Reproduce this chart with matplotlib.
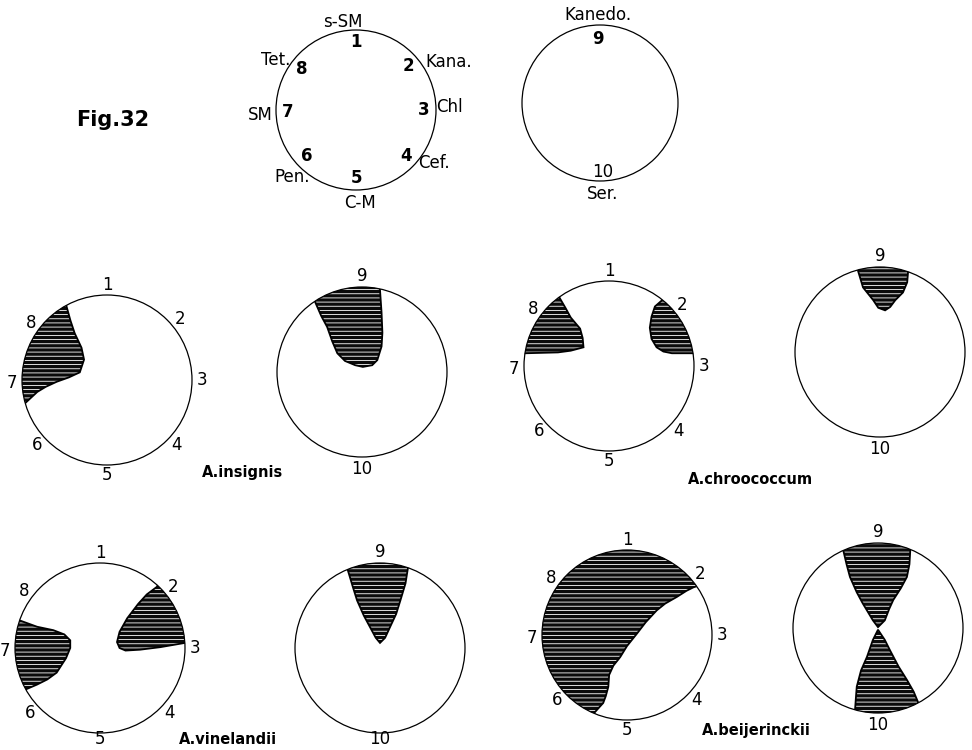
import matplotlib
matplotlib.use('Agg')
import matplotlib.pyplot as plt
from matplotlib.patches import Circle, Polygon
from matplotlib.transforms import Affine2D

plt.rcParams['font.family'] = ['DejaVu Sans']
plt.rcParams['hatch.linewidth'] = 0.6

# numbering of the positions round the circles
POS_LEFT = ['1', '2', '3', '4', '5', '6', '7', '8']
POS_RIGHT = ['9', '10']
KEY_NAMES = ['s-SM', 'Kana.', 'Chl', 'Cef.', 'C-M', 'Pen.', 'SM', 'Tet.']
KEY_NAMES_RIGHT = ['Kanedo.', 'Ser.']
SPECIES = ['A.insignis', 'A.chroococcum', 'A.vinelandii', 'A.beijerinckii']

# shaded regions, outline points in unit circle coords (x right, y up)
INSIGNIS_L = [(-0.48, 0.88), (-0.43, 0.70), (-0.38, 0.55), (-0.30, 0.38), (-0.27, 0.24),
              (-0.32, 0.09), (-0.45, 0.03), (-0.59, -0.02), (-0.72, -0.08), (-0.82, -0.14),
              (-0.96, -0.27), (-1.3, -0.35), (-1.3, 0.5), (-0.6, 1.3)]
INSIGNIS_R = [(-0.55, 0.82), (-0.48, 0.66), (-0.41, 0.53), (-0.35, 0.36), (-0.29, 0.22),
              (-0.20, 0.13), (-0.08, 0.08), (0.01, 0.06), (0.12, 0.08), (0.18, 0.14),
              (0.23, 0.30), (0.24, 0.46), (0.23, 0.70), (0.21, 0.99), (0.25, 1.3), (-0.6, 1.3)]
CHROO_L8 = [(-0.58, 0.80), (-0.51, 0.68), (-0.45, 0.57), (-0.34, 0.44), (-0.31, 0.33),
            (-0.30, 0.22), (-0.45, 0.18), (-0.60, 0.16), (-0.98, 0.15), (-1.3, 0.1), (-0.7, 1.2)]
CHROO_L2 = [(0.62, 0.77), (0.54, 0.70), (0.50, 0.58), (0.48, 0.45), (0.50, 0.32),
            (0.56, 0.22), (0.64, 0.17), (0.74, 0.15), (0.98, 0.15), (1.3, 0.1), (0.75, 1.2)]
CHROO_R = [(-0.26, 0.96), (-0.20, 0.76), (-0.08, 0.61), (-0.02, 0.52), (0.06, 0.49),
           (0.12, 0.53), (0.18, 0.61), (0.27, 0.70), (0.32, 0.82), (0.33, 0.94),
           (0.35, 1.3), (-0.3, 1.3)]
VINE_L7 = [(-0.96, 0.33), (-0.74, 0.25), (-0.55, 0.21), (-0.42, 0.16), (-0.35, 0.09),
           (-0.35, 0.00), (-0.40, -0.12), (-0.51, -0.29), (-0.62, -0.37), (-0.74, -0.43),
           (-0.88, -0.49), (-1.3, -0.6), (-1.3, 0.4)]
VINE_L2 = [(0.67, 0.72), (0.55, 0.63), (0.45, 0.52), (0.32, 0.35), (0.23, 0.19),
           (0.20, 0.07), (0.23, 0.00), (0.30, -0.03), (0.47, -0.02), (0.71, 0.01),
           (1.0, 0.06), (1.3, 0.0), (0.8, 1.0)]
VINE_R = [(-0.38, 0.92), (-0.32, 0.72), (-0.27, 0.56), (-0.19, 0.38), (-0.12, 0.25),
          (-0.05, 0.12), (0.0, 0.06), (0.06, 0.12), (0.12, 0.25), (0.19, 0.40),
          (0.24, 0.56), (0.30, 0.76), (0.33, 0.95), (0.35, 1.3), (-0.4, 1.3)]
BEIJ_L = [(0.78, 0.56), (0.70, 0.52), (0.59, 0.45), (0.45, 0.37), (0.35, 0.29),
          (0.22, 0.15), (0.12, 0.02), (0.00, -0.13), (-0.08, -0.26), (-0.16, -0.36),
          (-0.21, -0.47), (-0.22, -0.61), (-0.25, -0.72), (-0.28, -0.80), (-0.38, -0.91),
          (-0.45, -1.3), (-1.4, -1.3), (-1.4, 1.4), (1.0, 1.4), (1.2, 0.7)]
BEIJ_R9 = [(-0.41, 0.92), (-0.37, 0.75), (-0.33, 0.60), (-0.25, 0.42), (-0.18, 0.29),
           (-0.06, 0.09), (0.0, 0.01), (0.08, 0.09), (0.13, 0.22), (0.18, 0.33),
           (0.27, 0.47), (0.34, 0.60), (0.37, 0.75), (0.38, 0.92), (0.4, 1.3), (-0.45, 1.3)]
BEIJ_R10 = [(0.0, -0.02), (0.08, -0.14), (0.14, -0.26), (0.24, -0.45), (0.34, -0.61),
            (0.42, -0.75), (0.47, -0.87), (0.5, -1.3), (-0.35, -1.3), (-0.27, -0.96),
            (-0.26, -0.82), (-0.25, -0.69), (-0.20, -0.50), (-0.13, -0.34), (-0.06, -0.14)]

fig = plt.figure(figsize=(9.72, 7.5), dpi=100)
ax = fig.add_axes([0, 0, 1, 1])
ax.set_xlim(0, 972)
ax.set_ylim(750, 0)
ax.axis('off')


def draw_circle(cx, cy, r, blobs=()):
    t = Affine2D().scale(r, -r).translate(cx, cy) + ax.transData
    ring = Circle((0, 0), 1, transform=t, fill=False, ec='black', lw=0.9, zorder=3)
    ax.add_patch(ring)
    for pts in blobs:
        shade = Polygon(pts, closed=True, transform=t, fc='#0a0a0a', ec='white',
                        hatch='----', lw=0, zorder=1)
        edge = Polygon(pts, closed=True, transform=t, fill=False, ec='black', lw=1.3, zorder=2)
        ax.add_patch(shade)
        ax.add_patch(edge)
        shade.set_clip_path(ring)
        edge.set_clip_path(ring)


ANGLES8 = [90, 40, 0, -43, -90, -137, 182, 143]


def number_ring(cx, cy, r, rad=1.12, size=12, weight='normal'):
    for lab, ang in zip(POS_LEFT, ANGLES8):
        t = Affine2D().rotate_deg(ang)
        x, y = t.transform((rad * r, 0))
        ax.text(cx + x, min(cy - y, 739), lab, ha='center', va='center', fontsize=size,
                fontweight=weight)


# --- key circles
ax.text(113, 120, 'Fig.32', ha='center', va='center', fontsize=15, fontweight='bold')
draw_circle(356, 110, 80)
number_ring(356, 110, 80, rad=0.85, size=12, weight='bold')
key_xy = [(343, 22, 'center'), (425, 62, 'left'), (436, 107, 'left'), (418, 163, 'left'),
          (360, 203, 'center'), (310, 177, 'right'), (273, 115, 'right'), (290, 60, 'right')]
for name, (x, y, ha) in zip(KEY_NAMES, key_xy):
    ax.text(x, y, name, ha=ha, va='center', fontsize=12)

draw_circle(600, 103, 78)
ax.text(598, 15, KEY_NAMES_RIGHT[0], ha='center', va='center', fontsize=12)
ax.text(598, 39, POS_RIGHT[0], ha='center', va='center', fontsize=12, fontweight='bold')
ax.text(603, 172, POS_RIGHT[1], ha='center', va='center', fontsize=12)
ax.text(603, 194, KEY_NAMES_RIGHT[1], ha='center', va='center', fontsize=12)

# --- species rows
rows = [
    ((107, 380), (362, 372), [INSIGNIS_L], [INSIGNIS_R], (243, 473)),
    ((609, 366), (880, 352), [CHROO_L8, CHROO_L2], [CHROO_R], (750, 480)),
    ((100, 648), (380, 648), [VINE_L7, VINE_L2], [VINE_R], (228, 739)),
    ((627, 635), (878, 628), [BEIJ_L], [BEIJ_R9, BEIJ_R10], (756, 730)),
]
R = 85
for name, (lc, rc, lblobs, rblobs, lab_xy) in zip(SPECIES, rows):
    draw_circle(lc[0], lc[1], R, lblobs)
    number_ring(lc[0], lc[1], R)
    draw_circle(rc[0], rc[1], R, rblobs)
    ax.text(rc[0], rc[1] - R - 11, POS_RIGHT[0], ha='center', va='center', fontsize=12)
    ax.text(rc[0], min(rc[1] + R + 12, 739), POS_RIGHT[1], ha='center', va='center',
            fontsize=12)
    ax.text(lab_xy[0], lab_xy[1], name, ha='center', va='center', fontsize=10.5,
            fontweight='bold')

fig.savefig('out.png', dpi=100, facecolor='white')
